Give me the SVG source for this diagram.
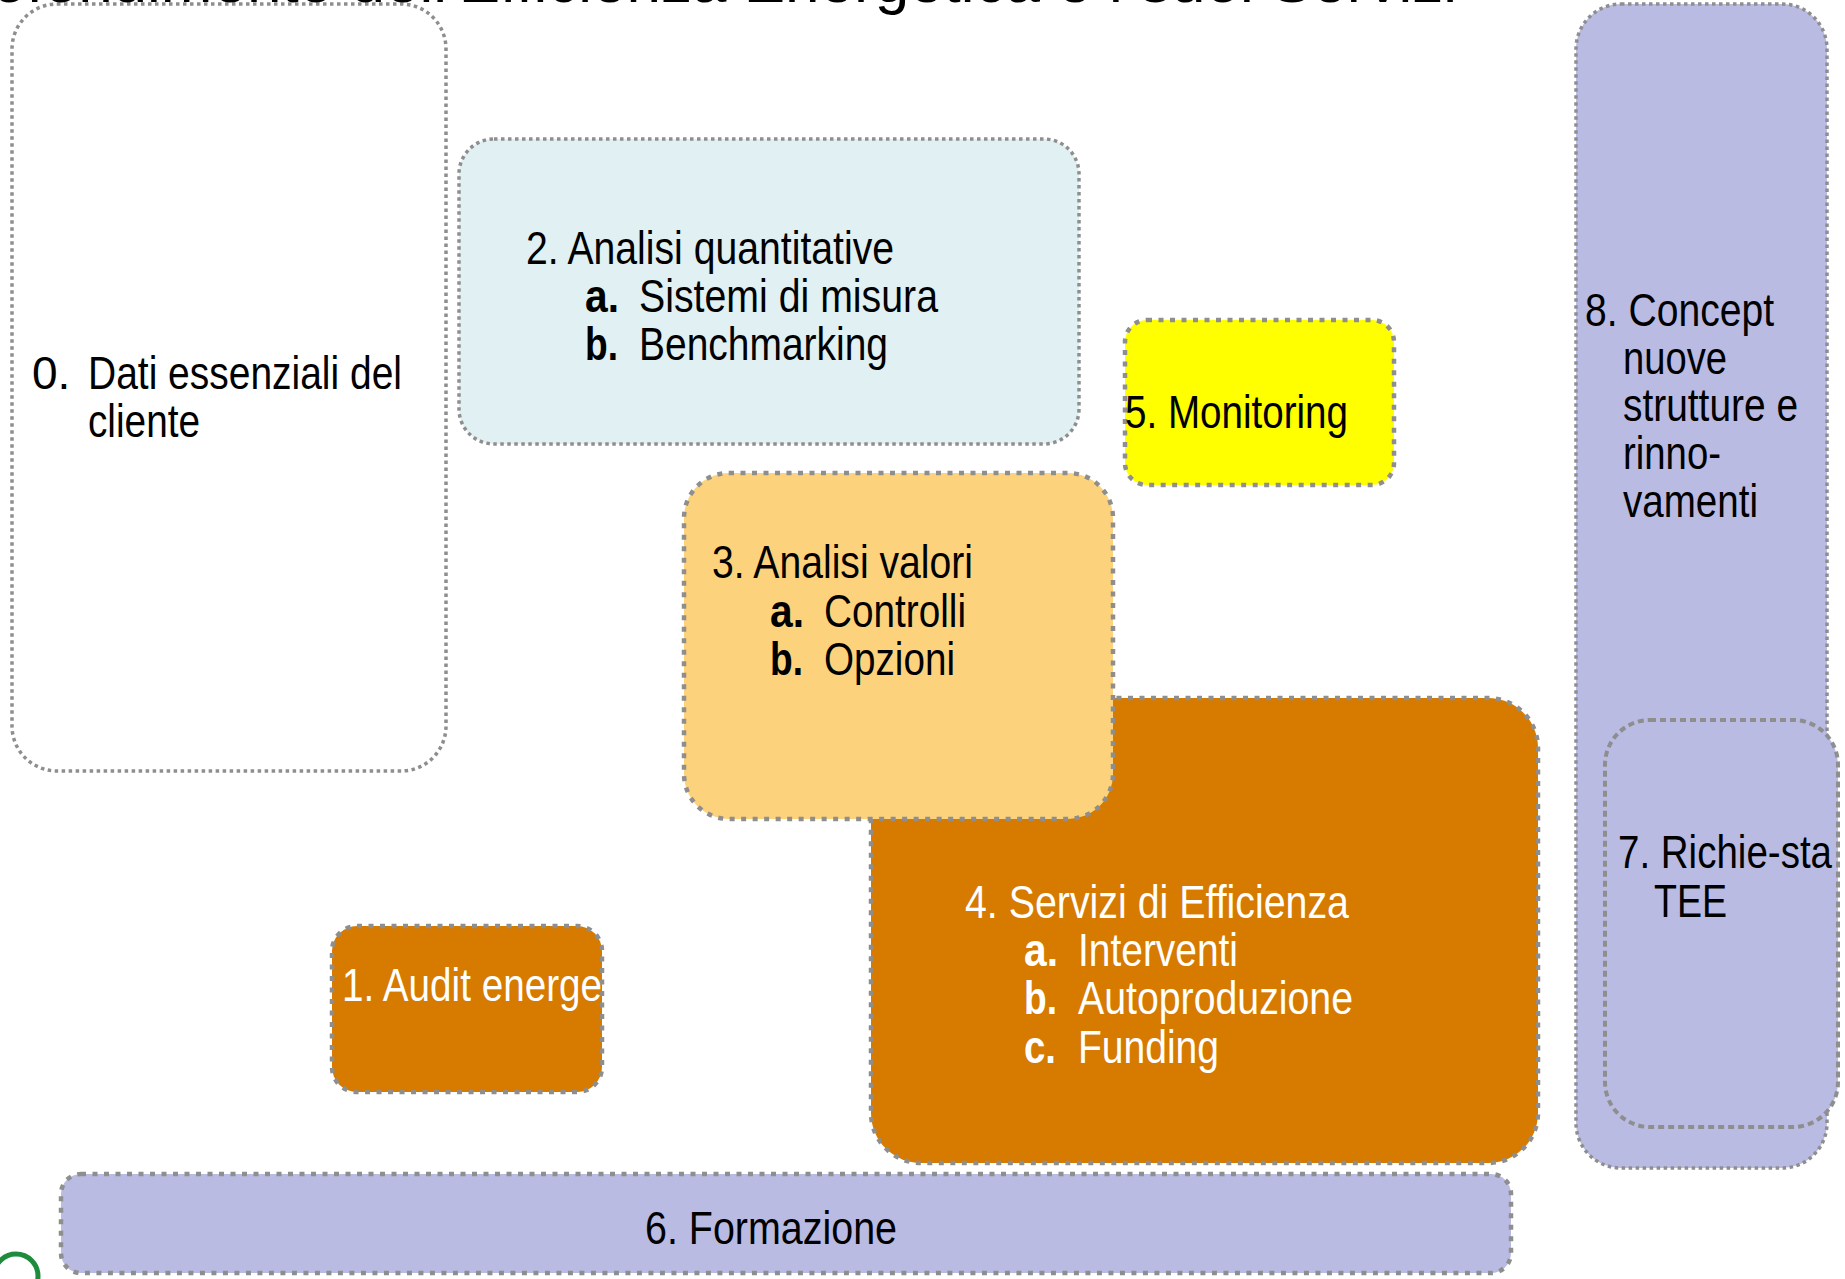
<svg xmlns="http://www.w3.org/2000/svg" width="1845" height="1279" viewBox="0 0 1845 1279">
<style>
  text { font-family: "Liberation Sans", Arial, sans-serif; font-size: 46px; fill: #000; }
  .w { fill: #fff; }
  .b { font-weight: bold; }
  .box { stroke: #8e8e8e; }
  .thin { stroke-width: 3.5; stroke-dasharray: 3.5 3.5; }
  .thick { stroke-width: 4.5; stroke-dasharray: 5 6.5; }
  .dash { stroke-width: 4; stroke-dasharray: 6 4; }
  .lav { fill: #b9bbe2; }
  .org { fill: #d67a00; }
</style>
<rect width="1845" height="1279" fill="#fff"/>

<g id="node0">
  <rect class="box thin" x="12" y="4" width="434" height="767" rx="45" fill="#fff"/>
  <text x="32" y="389">0.</text>
  <text x="88" y="389" textLength="314" lengthAdjust="spacingAndGlyphs">Dati essenziali del</text>
  <text x="88" y="437" textLength="112" lengthAdjust="spacingAndGlyphs">cliente</text>
</g>

<g id="node2">
  <rect class="box thin" x="459" y="139" width="620" height="305" rx="35" fill="#e0f0f3"/>
  <text x="526" y="264" textLength="368" lengthAdjust="spacingAndGlyphs">2. Analisi quantitative</text>
  <text class="b" x="585" y="312" textLength="34" lengthAdjust="spacingAndGlyphs">a.</text>
  <text x="639" y="312" textLength="299" lengthAdjust="spacingAndGlyphs">Sistemi di misura</text>
  <text class="b" x="585" y="360" textLength="33" lengthAdjust="spacingAndGlyphs">b.</text>
  <text x="639" y="360" textLength="249" lengthAdjust="spacingAndGlyphs">Benchmarking</text>
</g>

<g id="node5">
  <rect class="box thick" x="1125" y="320" width="269" height="165" rx="22" fill="#ffff00"/>
  <text x="1125" y="428" textLength="223" lengthAdjust="spacingAndGlyphs">5. Monitoring</text>
</g>

<g id="node4">
  <rect class="box thick org" x="871" y="698" width="667" height="465" rx="50"/>
  <text class="w" x="965" y="918" textLength="384" lengthAdjust="spacingAndGlyphs">4. Servizi di Efficienza</text>
  <text class="w b" x="1024" y="966" textLength="34" lengthAdjust="spacingAndGlyphs">a.</text>
  <text class="w" x="1078" y="966" textLength="160" lengthAdjust="spacingAndGlyphs">Interventi</text>
  <text class="w b" x="1024" y="1014" textLength="33" lengthAdjust="spacingAndGlyphs">b.</text>
  <text class="w" x="1078" y="1014" textLength="275" lengthAdjust="spacingAndGlyphs">Autoproduzione</text>
  <text class="w b" x="1024" y="1063" textLength="32" lengthAdjust="spacingAndGlyphs">c.</text>
  <text class="w" x="1078" y="1063" textLength="141" lengthAdjust="spacingAndGlyphs">Funding</text>
</g>

<g id="node3">
  <rect class="box thick" x="684" y="473" width="429" height="346" rx="45" fill="#fdd27c"/>
  <text x="712" y="578" textLength="261" lengthAdjust="spacingAndGlyphs">3. Analisi valori</text>
  <text class="b" x="770" y="627" textLength="34" lengthAdjust="spacingAndGlyphs">a.</text>
  <text x="824" y="627" textLength="142" lengthAdjust="spacingAndGlyphs">Controlli</text>
  <text class="b" x="770" y="675" textLength="33" lengthAdjust="spacingAndGlyphs">b.</text>
  <text x="824" y="675" textLength="131" lengthAdjust="spacingAndGlyphs">Opzioni</text>
</g>

<g id="node1">
  <rect class="box thick org" x="332" y="926" width="270" height="166" rx="25"/>
  <text class="w" x="342" y="1001" textLength="260" lengthAdjust="spacingAndGlyphs">1. Audit energe</text>
</g>

<g id="node8">
  <rect class="box thin lav" x="1576" y="4" width="251" height="1164" rx="45"/>
  <text x="1585" y="326" textLength="189" lengthAdjust="spacingAndGlyphs">8. Concept</text>
  <text x="1623" y="374" textLength="104" lengthAdjust="spacingAndGlyphs">nuove</text>
  <text x="1623" y="421" textLength="175" lengthAdjust="spacingAndGlyphs">strutture e</text>
  <text x="1623" y="469" textLength="98" lengthAdjust="spacingAndGlyphs">rinno-</text>
  <text x="1623" y="517" textLength="135" lengthAdjust="spacingAndGlyphs">vamenti</text>
</g>

<g id="node7">
  <rect class="box dash lav" x="1605" y="720" width="233" height="407" rx="45"/>
  <text x="1618" y="868" textLength="214" lengthAdjust="spacingAndGlyphs">7. Richie-sta</text>
  <text x="1654" y="917" textLength="73" lengthAdjust="spacingAndGlyphs">TEE</text>
</g>

<g id="node6">
  <rect class="box thick lav" x="61" y="1174" width="1450" height="99" rx="20"/>
  <text x="645" y="1244" textLength="252" lengthAdjust="spacingAndGlyphs">6. Formazione</text>
</g>

<g id="connectors"></g>

<g id="decor">
  <circle cx="16" cy="1276" r="22" fill="none" stroke="#1e8c3c" stroke-width="5"/>
  <text x="1457" y="2" text-anchor="end" style="font-size:62px">Approfondimento dell'Efficienza Energetica e i suoi Servizi</text>
</g>
</svg>
